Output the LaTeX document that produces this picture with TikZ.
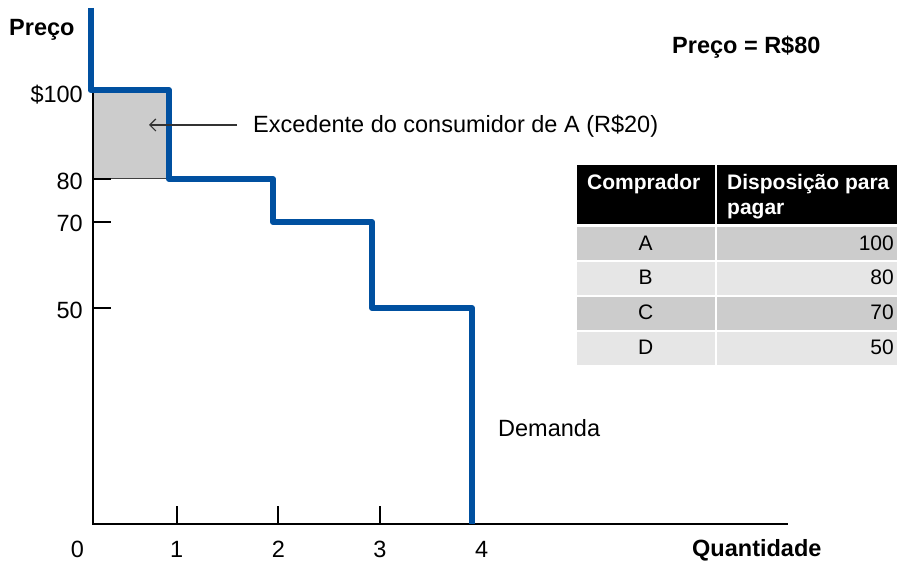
\documentclass[tikz,border=0pt]{standalone}
\usepackage{fontspec}
\setmainfont{Liberation Sans}
\usetikzlibrary{arrows.meta}
\definecolor{demblue}{HTML}{0050A0}
\definecolor{shadeA}{HTML}{CCCCCC}
\definecolor{shadeB}{HTML}{E6E6E6}
\definecolor{arrowgray}{HTML}{333333}
\tikzset{
  lbl/.style={inner sep=0pt, text=black, font=\fontsize{23.5}{28}\selectfont},
  blbl/.style={inner sep=0pt, text=black, font=\fontsize{23.5}{28}\selectfont\bfseries},
  tbl/.style={inner sep=0pt, text=black, font=\fontsize{21}{25}\selectfont},
  thead/.style={inner sep=0pt, text=white, font=\fontsize{21}{25}\selectfont\bfseries},
  axisline/.style={line width=2pt, black},
  tickline/.style={line width=2pt, black},
  demand/.style={line width=6pt, demblue, line join=round},
}
\begin{document}
\begin{tikzpicture}[x=1pt,y=-1pt]
\useasboundingbox (0,0) rectangle (899,561);
% consumer surplus area
\fill[shadeA] (93,90) rectangle (169,179);
\draw[line width=1pt, black!75] (93,179) -- (169,179);
% axes
\draw[axisline] (93,90) -- (93,524) -- (788,524);
% y ticks
\draw[tickline] (93,179) -- (111,179);
\draw[tickline] (93,222) -- (111,222);
\draw[tickline] (93,308) -- (111,308);
% x ticks
\draw[tickline] (176.7,524) -- (176.7,506);
\draw[tickline] (278.3,524) -- (278.3,506);
\draw[tickline] (379.5,524) -- (379.5,506);
% demand curve
\draw[demand] (90.5,8) -- (90.5,90) -- (169,90) -- (169,179) -- (273,179) -- (273,222)
  -- (372,222) -- (372,308) -- (472,308) -- (472,524);
% labels
\node[blbl, anchor=base west] (preco) at (9,36) {Preço};
\node[blbl, anchor=base west] (precoval) at (672,54) {Preço = R\$80};
\node[lbl, anchor=base east] (y100) at (83,103) {\$100};
\node[lbl, anchor=base east] (y80) at (83,189.5) {80};
\node[lbl, anchor=base east] (y70) at (83,232) {70};
\node[lbl, anchor=base east] (y50) at (83,318) {50};
\node[lbl, anchor=base] (x0) at (77.3,557) {0};
\node[lbl, anchor=base] (x1) at (176.7,557) {1};
\node[lbl, anchor=base] (x2) at (278.3,557) {2};
\node[lbl, anchor=base] (x3) at (380,557) {3};
\node[lbl, anchor=base] (x4) at (481.7,557) {4};
\node[blbl, anchor=base west] (quant) at (692,556) {Quantidade};
\node[lbl, anchor=base west] (demanda) at (498,436) {Demanda};
\node[lbl, anchor=base west] (exced) at (253,133) {Excedente do consumidor de A (R\$20)};
% arrow
\coordinate (arrstart) at (237,125);
\coordinate (arrend) at (149,125);
\draw[arrowgray, line width=1.2pt, -{Straight Barb[length=6pt,width=12pt]}] (arrstart) -- (arrend);
% table
\fill[black] (577,165) rectangle (714.5,224);
\fill[black] (717,165) rectangle (897,224);
\fill[shadeA] (577,227) rectangle (714.5,260);
\fill[shadeA] (717,227) rectangle (897,260);
\fill[shadeB] (577,262) rectangle (714.5,295);
\fill[shadeB] (717,262) rectangle (897,295);
\fill[shadeA] (577,297) rectangle (714.5,330);
\fill[shadeA] (717,297) rectangle (897,330);
\fill[shadeB] (577,332) rectangle (714.5,365);
\fill[shadeB] (717,332) rectangle (897,365);
\node[thead, anchor=base west] (hcomp) at (587,190) {Comprador};
\node[thead, anchor=base west] (hdisp) at (727,190) {Disposição para};
\node[thead, anchor=base west] (hpagar) at (727,215) {pagar};
\node[tbl, anchor=base] (ra) at (645.7,251) {A};
\node[tbl, anchor=base] (rb) at (645.7,284.5) {B};
\node[tbl, anchor=base] (rc) at (645.7,319) {C};
\node[tbl, anchor=base] (rd) at (645.7,354) {D};
\node[tbl, anchor=base east] (va) at (894,251) {100};
\node[tbl, anchor=base east] (vb) at (894,284.5) {80};
\node[tbl, anchor=base east] (vc) at (894,319) {70};
\node[tbl, anchor=base east] (vd) at (894,354) {50};
\end{tikzpicture}
\end{document}
